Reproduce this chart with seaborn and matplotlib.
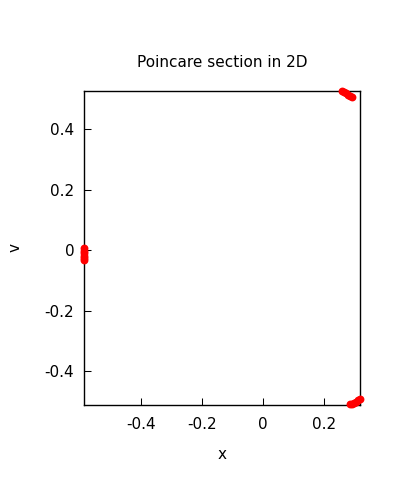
import numpy as np
import pandas as pd
import seaborn as sns
import matplotlib
matplotlib.use("Agg")
import matplotlib.pyplot as plt
from matplotlib.ticker import FuncFormatter, FixedLocator

# points (three small clusters)
x_top = [0.260, 0.266, 0.273, 0.280, 0.287, 0.293]
v_top = [0.526, 0.523, 0.518, 0.514, 0.510, 0.506]
x_bot = [0.287, 0.292, 0.299, 0.305, 0.312, 0.319]
v_bot = [-0.509, -0.507, -0.503, -0.500, -0.496, -0.492]
x_left = [-0.587, -0.587, -0.587, -0.587, -0.587, -0.587]
v_left = [0.007, -0.001, -0.009, -0.018, -0.026, -0.033]

xticks = [-0.4, -0.2, 0, 0.2]
yticks = [-0.4, -0.2, 0, 0.2, 0.4]

df = pd.DataFrame({
    "x": x_top + x_bot + x_left,
    "v": v_top + v_bot + v_left,
})

sns.set_style("white")
plt.rcParams["font.family"] = ["DejaVu Sans"]
plt.rcParams["axes.unicode_minus"] = False
plt.rcParams["text.color"] = "black"
plt.rcParams["axes.labelcolor"] = "black"

fig = plt.figure(figsize=(4, 5), dpi=100)
ax = fig.add_axes([0.21, 0.19, 0.691, 0.628])

sns.scatterplot(data=df, x="x", y="v", ax=ax, color="#ff0000", s=32,
                linewidth=0, clip_on=False, zorder=3)

# autoscale fixed to data extremes, like gnuplot "set autoscale fix"
ax.set_xlim(df["x"].min(), df["x"].max() + 0.002)
ax.set_ylim(df["v"].min() - 0.002, df["v"].max())

ax.xaxis.set_major_locator(FixedLocator(xticks))
ax.yaxis.set_major_locator(FixedLocator(yticks))
fmt = FuncFormatter(lambda val, pos: "%g" % round(val, 3))
ax.xaxis.set_major_formatter(fmt)
ax.yaxis.set_major_formatter(fmt)

ax.tick_params(direction="in", length=4.8, width=0.75, labelsize=11,
               colors="black", top=False, right=False, bottom=True, left=True)
ax.tick_params(axis="x", pad=8.5)
ax.tick_params(axis="y", pad=7)

for sp in ax.spines.values():
    sp.set_visible(True)
    sp.set_color("black")
    sp.set_linewidth(1.0)

ax.set_title("Poincare section in 2D", fontsize=11, pad=17, color="black")
ax.set_xlabel("x", fontsize=11, labelpad=11)
ax.set_ylabel("v", fontsize=11, labelpad=16)

fig.savefig("out.png", dpi=100)
